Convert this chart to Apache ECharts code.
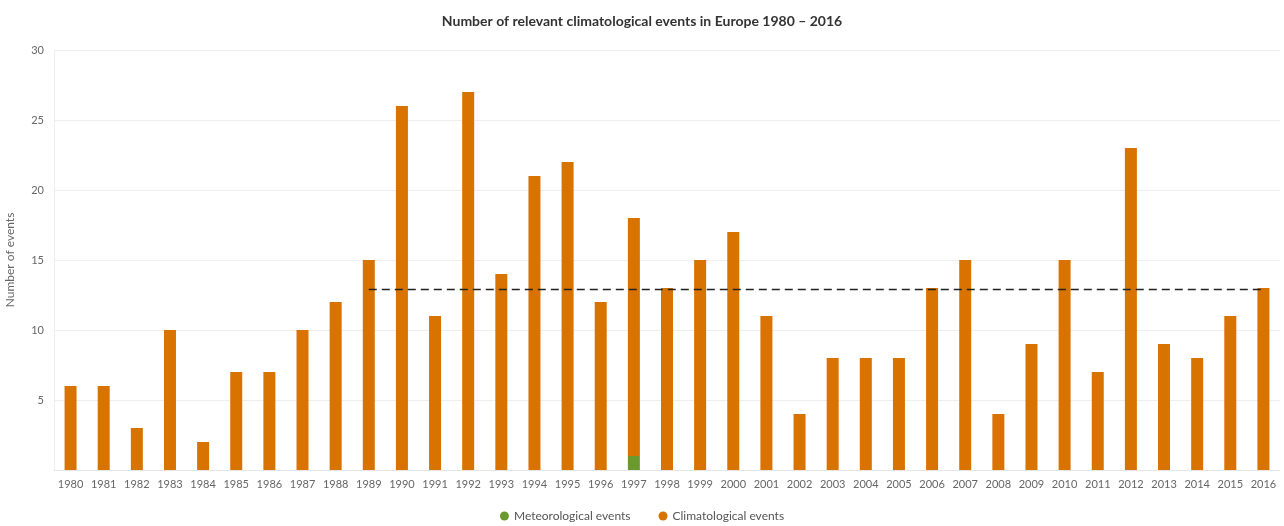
<!DOCTYPE html>
<html>
<head>
<meta charset="utf-8">
<script src="https://cdn.jsdelivr.net/npm/echarts@6/dist/echarts.min.js"></script>
<style>
  html, body { margin: 0; padding: 0; background: #fff; }
  #chart { width: 1284px; height: 526px; }
</style>
</head>
<body>
<div id="chart"></div>
<script>
// years on the x axis
var years = ['1980','1981','1982','1983','1984','1985','1986','1987','1988','1989',
  '1990','1991','1992','1993','1994','1995','1996','1997','1998','1999',
  '2000','2001','2002','2003','2004','2005','2006','2007','2008','2009',
  '2010','2011','2012','2013','2014','2015','2016'];
var meteorological = [0,0,0,0,0,0,0,0,0,0, 0,0,0,0,0,0,0,1,0,0, 0,0,0,0,0,0,0,0,0,0, 0,0,0,0,0,0,0];
var climatological = [6,6,3,10,2,7,7,10,12,15, 26,11,27,14,21,22,12,17,13,15, 17,11,4,8,8,8,13,15,4,9, 15,7,23,9,8,11,13];
var averageLine = 12.9;
var yTicks = [0, 5, 10, 15, 20, 25, 30];

var chart = echarts.init(document.getElementById('chart'));
chart.setOption({
    animation: false,
    textStyle: { fontFamily: 'Lato, "Open Sans", sans-serif' },
    title: {
        text: 'Number of relevant climatological events in Europe 1980 \u2013 2016',
        left: 'center',
        top: 9,
        textStyle: { fontSize: 14, fontWeight: 'bold', color: '#333' }
    },
    legend: {
        bottom: -1,
        left: 'center',
        icon: 'circle',
        itemWidth: 9,
        itemHeight: 9,
        itemGap: 28,
        textStyle: { fontSize: 12, color: '#555' },
        data: ['Meteorological events', 'Climatological events']
    },
    grid: { left: 54, right: 4, top: 50, bottom: 56, outerBoundsMode: 'none' },
    xAxis: {
        type: 'category',
        data: years,
        axisTick: { show: false },
        axisLine: { lineStyle: { color: '#e6e6e6' } },
        axisLabel: { color: '#666', fontSize: 11, margin: 9, interval: 0 }
    },
    yAxis: {
        type: 'value',
        min: yTicks[0],
        max: yTicks[yTicks.length - 1],
        interval: 5,
        name: 'Number of events',
        nameLocation: 'middle',
        nameGap: 38,
        nameTextStyle: { color: '#666', fontSize: 12 },
        axisLine: { show: true, lineStyle: { color: '#eeeeee' } },
        axisLabel: {
            color: '#666', fontSize: 11, margin: 10,
            formatter: function (v) { return v === 0 ? '' : v; }
        },
        splitLine: { lineStyle: { color: '#eeeeee' } }
    },
    series: [
        {
            name: 'Meteorological events',
            type: 'bar',
            stack: 'total',
            barWidth: 12,
            itemStyle: { color: '#6a9a2e' },
            data: meteorological
        },
        {
            name: 'Climatological events',
            type: 'bar',
            stack: 'total',
            barWidth: 12,
            itemStyle: { color: '#d97300' },
            data: climatological,
            markLine: {
                symbol: 'none',
                silent: true,
                label: { show: false },
                lineStyle: { color: '#222', type: [8, 5], width: 1.3 },
                data: [[
                    { coord: ['1989', averageLine] },
                    { coord: ['2016', averageLine] }
                ]]
            }
        }
    ]
});
</script>
</body>
</html>
